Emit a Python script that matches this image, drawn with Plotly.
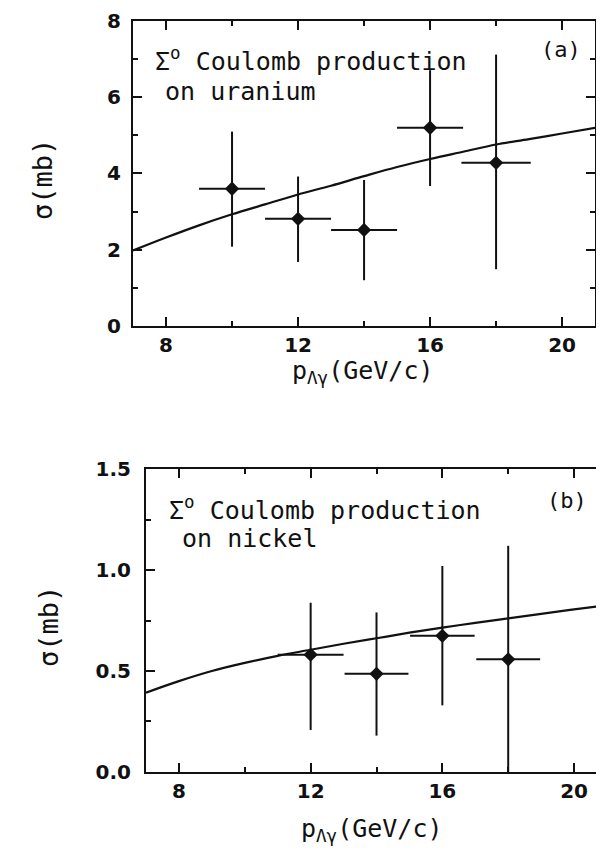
import plotly.graph_objects as go

# ---- data: (a) uranium ----
u_x = [10, 12, 14, 16, 18]
u_y = [3.60, 2.81, 2.52, 5.20, 4.28]
u_yerr_plus = [1.50, 1.11, 1.31, 1.51, 2.84]
u_yerr_minus = [1.52, 1.13, 1.32, 1.53, 2.79]
u_xerr = [1.0, 1.0, 1.0, 1.0, 1.05]
u_curve_x = [7, 8, 9, 10, 11, 12, 13, 14, 15, 16, 17, 18, 19, 20, 21]
u_curve_y = [1.98, 2.32, 2.64, 2.93, 3.19, 3.45, 3.68, 3.93, 4.17, 4.38, 4.57, 4.76, 4.90, 5.05, 5.20]

# ---- data: (b) nickel ----
n_x = [12, 14, 16, 18]
n_y = [0.581, 0.486, 0.674, 0.558]
n_yerr_plus = [0.257, 0.304, 0.346, 0.562]
n_yerr_minus = [0.373, 0.306, 0.344, 0.558]
n_xerr = [1.0, 0.97, 0.98, 0.97]
n_curve_x = [7, 8, 9, 10, 11, 12, 13, 14, 15, 16, 17, 18, 19, 20, 21]
n_curve_y = [0.393, 0.450, 0.500, 0.540, 0.575, 0.605, 0.635, 0.662, 0.690, 0.715, 0.738, 0.761, 0.783, 0.805, 0.826]

x_ticks = [8, 12, 16, 20]
u_ticks = [0, 2, 4, 6, 8]
n_ticks = [0.0, 0.5, 1.0, 1.5]

BLACK = "#111111"
MONO = "DejaVu Sans Mono"

fig = go.Figure()

def add_panel(xs, ys, yp, ym, xe, cx, cy, xa, ya):
    fig.add_trace(go.Scatter(
        x=cx, y=cy, mode="lines", line=dict(color=BLACK, width=2.2, shape="spline"),
        xaxis=xa, yaxis=ya, showlegend=False, hoverinfo="skip"))
    fig.add_trace(go.Scatter(
        x=xs, y=ys, mode="markers",
        marker=dict(symbol="diamond", size=11, color=BLACK),
        error_y=dict(type="data", symmetric=False, array=yp, arrayminus=ym,
                     color=BLACK, thickness=2, width=0),
        error_x=dict(type="data", array=xe, color=BLACK, thickness=2, width=0),
        xaxis=xa, yaxis=ya, showlegend=False))

add_panel(u_x, u_y, u_yerr_plus, u_yerr_minus, u_xerr, u_curve_x, u_curve_y, "x", "y")
add_panel(n_x, n_y, n_yerr_plus, n_yerr_minus, n_xerr, n_curve_x, n_curve_y, "x2", "y2")

tickfont = dict(family="DejaVu Sans", size=20, color=BLACK, weight="bold")
common = dict(showline=True, linewidth=2, linecolor=BLACK, mirror="allticks",
              ticks="inside", ticklen=9, tickwidth=2, tickcolor=BLACK,
              showgrid=False, zeroline=False, tickfont=tickfont, automargin=False)

xcommon = dict(common, range=[7, 21], tickvals=x_ticks,
               minor=dict(dtick=2, tick0=0, ticks="inside", ticklen=5, tickwidth=1.5,
                          tickcolor=BLACK, showgrid=False),
               ticklabelstandoff=0)

fig.update_layout(
    width=604, height=850, margin=dict(l=0, r=0, t=0, b=0, pad=0),
    paper_bgcolor="white", plot_bgcolor="white",
    xaxis=dict(xcommon, domain=[0.207, 0.972], anchor="y"),
    yaxis=dict(common, domain=[0.6259, 0.9847], range=[0, 8], tickvals=u_ticks,
               minor=dict(dtick=1, tick0=0, ticks="inside", ticklen=5, tickwidth=1.5,
                          tickcolor=BLACK, showgrid=False),
               ticklabelstandoff=6, anchor="x"),
    xaxis2=dict(xcommon, domain=[0.2285, 0.9917], anchor="y2"),
    yaxis2=dict(common, domain=[0.1012, 0.4576], range=[0, 1.5], tickvals=n_ticks,
                tickformat=".1f",
                minor=dict(dtick=0.25, tick0=0, ticks="inside", ticklen=5, tickwidth=1.5,
                           tickcolor=BLACK, showgrid=False),
                ticklabelstandoff=9, anchor="x2"),
)

afont = dict(family=MONO, size=25, color=BLACK)
ann = []
# panel (a) texts
ann.append(dict(x=7.6, y=7.0, xref="x", yref="y", xanchor="left", yanchor="middle",
                text="Σ<sup>o</sup> Coulomb production", showarrow=False, font=afont))
ann.append(dict(x=7.92, y=6.14, xref="x", yref="y", xanchor="left", yanchor="middle",
                text="on uranium", showarrow=False, font=afont))
ann.append(dict(x=19.97, y=7.24, xref="x", yref="y", xanchor="center", yanchor="middle",
                text="(a)", showarrow=False, font=dict(family=MONO, size=22, color=BLACK)))
# panel (b) texts
ann.append(dict(x=7.63, y=1.307, xref="x2", yref="y2", xanchor="left", yanchor="middle",
                text="Σ<sup>o</sup> Coulomb production", showarrow=False, font=afont))
ann.append(dict(x=8.02, y=1.158, xref="x2", yref="y2", xanchor="left", yanchor="middle",
                text="on nickel", showarrow=False, font=afont))
ann.append(dict(x=19.78, y=1.346, xref="x2", yref="y2", xanchor="center", yanchor="middle",
                text="(b)", showarrow=False, font=dict(family=MONO, size=22, color=BLACK)))

tfont = dict(family=MONO, size=25, color=BLACK)
ann.append(dict(x=34/604, y=1-172/850, xref="paper", yref="paper", textangle=-90,
                xanchor="center", yanchor="middle", text="σ(mb)", showarrow=False,
                font=dict(family=MONO, size=27, color=BLACK)))
ann.append(dict(x=40/604, y=1-619/850, xref="paper", yref="paper", textangle=-90,
                xanchor="center", yanchor="middle", text="σ(mb)", showarrow=False,
                font=dict(family=MONO, size=27, color=BLACK)))
ann.append(dict(x=355/604, y=1-346/850, xref="paper", yref="paper",
                xanchor="center", yanchor="top", text="p<sub>Λγ</sub>(GeV/c)",
                showarrow=False, font=tfont))
ann.append(dict(x=364/604, y=1-804/850, xref="paper", yref="paper",
                xanchor="center", yanchor="top", text="p<sub>Λγ</sub>(GeV/c)",
                showarrow=False, font=tfont))
fig.update_layout(annotations=ann)

fig.write_html("out.html")
